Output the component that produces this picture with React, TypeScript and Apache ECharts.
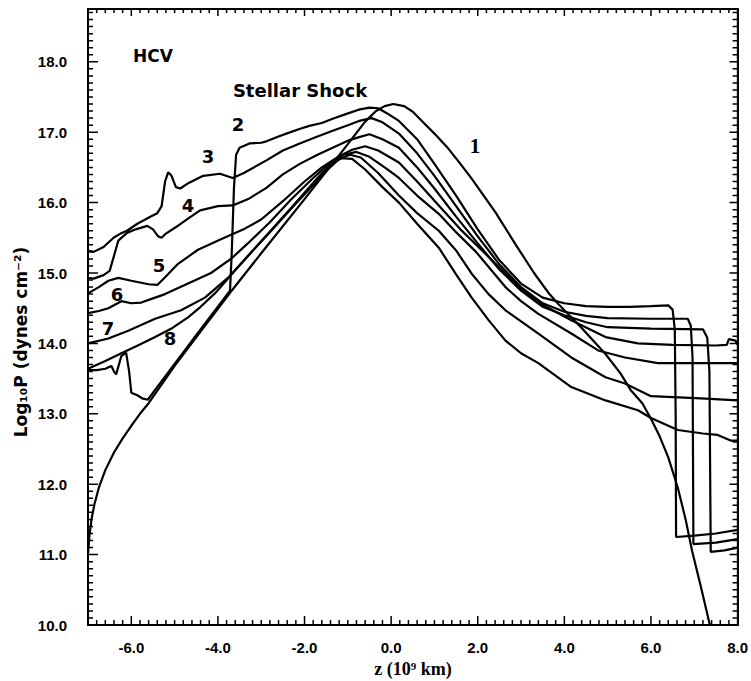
import React, { useEffect, useRef } from 'react';
import * as echarts from 'echarts';

type Pt = [number, number];

const CURVE_1: Pt[] = [
  [-7, 11.0], [-6.97, 11.25], [-6.92, 11.5], [-6.85, 11.72], [-6.75, 11.95], [-6.6, 12.2],
  [-6.4, 12.45], [-6.2, 12.65], [-6.0, 12.83], [-5.8, 13.0], [-5.6, 13.15], [-5.0, 13.68],
  [-4.41, 14.16], [-3.72, 14.72], [-3.0, 15.28], [-2.0, 16.05], [-1.0, 16.83], [-0.6, 17.15],
  [-0.35, 17.3], [-0.15, 17.37], [0.05, 17.4], [0.3, 17.37], [0.5, 17.29], [0.71, 17.16],
  [1.0, 16.98], [1.33, 16.76], [1.6, 16.55], [1.86, 16.34], [2.1, 16.13], [2.41, 15.86],
  [2.88, 15.4], [3.3, 15.0], [3.63, 14.72], [3.86, 14.56], [4.4, 14.22], [4.95, 13.85],
  [5.3, 13.57], [5.54, 13.33], [5.8, 13.15], [6.0, 12.93], [6.2, 12.68], [6.4, 12.38],
  [6.62, 11.95], [6.8, 11.5], [6.95, 11.05], [7.15, 10.55], [7.36, 10.0],
];

const CURVE_2: Pt[] = [
  [-7, 13.62], [-6.8, 13.62], [-6.6, 13.64], [-6.46, 13.68], [-6.4, 13.6], [-6.35, 13.56],
  [-6.23, 13.82], [-6.12, 13.87], [-6.05, 13.6], [-6.0, 13.3], [-5.85, 13.26], [-5.75, 13.22],
  [-5.62, 13.2], [-5.0, 13.71], [-4.41, 14.19], [-3.72, 14.75], [-3.68, 15.3], [-3.63, 16.2],
  [-3.58, 16.68], [-3.5, 16.78], [-3.27, 16.84], [-3.0, 16.85], [-2.88, 16.87], [-2.6, 16.94],
  [-2.42, 16.98], [-2.1, 17.05], [-1.89, 17.09], [-1.6, 17.13], [-1.35, 17.19], [-1.03, 17.26],
  [-0.75, 17.32], [-0.5, 17.35], [-0.3, 17.34], [-0.1, 17.27], [0.18, 17.16], [0.6, 16.9],
  [1.0, 16.55], [1.5, 16.1], [2.0, 15.62], [2.5, 15.18], [3.0, 14.85], [3.5, 14.65],
  [4.0, 14.57], [4.5, 14.53], [5.0, 14.52], [5.5, 14.52], [6.0, 14.53], [6.4, 14.54],
  [6.5, 14.48], [6.55, 14.2], [6.57, 13.0], [6.58, 11.25], [7.0, 11.27], [7.5, 11.3], [8.0, 11.35],
];

const CURVE_3: Pt[] = [
  [-7, 15.32], [-6.87, 15.3], [-6.64, 15.37], [-6.41, 15.5], [-6.25, 15.56], [-6.1, 15.6],
  [-5.86, 15.7], [-5.56, 15.8], [-5.4, 15.85], [-5.3, 15.95], [-5.22, 16.3], [-5.15, 16.43],
  [-5.07, 16.38], [-4.97, 16.22], [-4.87, 16.2], [-4.7, 16.27], [-4.57, 16.31], [-4.34, 16.38],
  [-3.95, 16.41], [-3.66, 16.35], [-3.4, 16.42], [-2.88, 16.6], [-2.5, 16.74], [-2.11, 16.84],
  [-1.7, 16.94], [-1.35, 17.02], [-1.0, 17.1], [-0.74, 17.16], [-0.45, 17.2], [-0.2, 17.14],
  [0.18, 16.98], [0.6, 16.7], [1.0, 16.38], [1.5, 15.95], [2.0, 15.52], [2.5, 15.12],
  [3.0, 14.8], [3.5, 14.57], [4.0, 14.45], [4.5, 14.39], [5.0, 14.36], [6.0, 14.35],
  [6.85, 14.35], [6.92, 14.25], [6.96, 13.8], [6.98, 11.15], [7.5, 11.17], [8.0, 11.22],
];

const CURVE_4: Pt[] = [
  [-7, 14.93], [-6.87, 14.92], [-6.64, 14.97], [-6.5, 15.03], [-6.42, 15.2], [-6.3, 15.46],
  [-6.1, 15.57], [-5.9, 15.62], [-5.63, 15.67], [-5.5, 15.62], [-5.38, 15.52], [-5.3, 15.5],
  [-5.2, 15.56], [-4.95, 15.66], [-4.7, 15.77], [-4.41, 15.89], [-4.0, 15.95], [-3.66, 15.96],
  [-3.3, 16.05], [-2.88, 16.21], [-2.5, 16.4], [-2.11, 16.55], [-1.7, 16.68], [-1.35, 16.78],
  [-1.0, 16.88], [-0.74, 16.93], [-0.5, 16.97], [-0.2, 16.9], [0.18, 16.78], [0.6, 16.5],
  [1.0, 16.2], [1.5, 15.8], [2.0, 15.42], [2.5, 15.05], [3.0, 14.75], [3.5, 14.52],
  [4.0, 14.4], [4.5, 14.3], [5.0, 14.23], [6.0, 14.21], [7.2, 14.2], [7.3, 14.08],
  [7.35, 13.6], [7.38, 11.04], [7.7, 11.06], [8.0, 11.1],
];

const CURVE_5: Pt[] = [
  [-7, 14.71], [-6.75, 14.8], [-6.53, 14.89], [-6.3, 14.93], [-6.0, 14.89], [-5.6, 14.84],
  [-5.4, 14.83], [-5.22, 14.94], [-4.92, 15.13], [-4.46, 15.33], [-3.93, 15.48], [-3.38, 15.63],
  [-3.0, 15.76], [-2.5, 16.02], [-2.0, 16.3], [-1.6, 16.5], [-1.2, 16.66], [-0.9, 16.75],
  [-0.6, 16.8], [-0.3, 16.74], [0.18, 16.57], [0.6, 16.3], [1.1, 15.96], [1.6, 15.62],
  [2.1, 15.32], [2.64, 14.99], [3.0, 14.78], [3.4, 14.58], [4.16, 14.33], [4.95, 14.09],
  [5.7, 14.0], [6.5, 13.98], [7.5, 13.97], [7.75, 13.98], [7.8, 14.06], [7.95, 14.04], [8.0, 13.98],
];

const CURVE_6: Pt[] = [
  [-7, 14.43], [-6.75, 14.46], [-6.53, 14.5], [-6.23, 14.6], [-6.0, 14.57], [-5.77, 14.58],
  [-5.5, 14.64], [-5.22, 14.7], [-4.69, 14.85], [-4.16, 15.0], [-3.7, 15.2], [-3.31, 15.42],
  [-2.8, 15.72], [-2.3, 16.05], [-1.8, 16.35], [-1.4, 16.57], [-1.1, 16.68], [-0.8, 16.72],
  [-0.5, 16.65], [-0.1, 16.48], [0.18, 16.35], [0.6, 16.1], [1.1, 15.84], [1.5, 15.58],
  [1.96, 15.3], [2.64, 14.8], [3.0, 14.6], [3.4, 14.42], [4.16, 14.14], [4.78, 13.9],
  [5.4, 13.8], [6.16, 13.72], [7.0, 13.72], [8.0, 13.72],
];

const CURVE_7: Pt[] = [
  [-7, 14.0], [-6.53, 14.07], [-6.07, 14.18], [-5.45, 14.35], [-4.85, 14.47], [-4.3, 14.65],
  [-3.77, 14.93], [-3.3, 15.25], [-2.8, 15.58], [-2.3, 15.92], [-2.0, 16.12], [-1.5, 16.45],
  [-1.2, 16.62], [-0.95, 16.68], [-0.7, 16.64], [-0.3, 16.42], [0.18, 16.1], [0.6, 15.85],
  [1.1, 15.6], [1.5, 15.32], [1.86, 14.99], [2.25, 14.7], [2.64, 14.47], [3.4, 14.14],
  [4.16, 13.8], [4.95, 13.52], [5.4, 13.43], [6.0, 13.25], [7.15, 13.22], [8.0, 13.19],
];

const CURVE_8: Pt[] = [
  [-7, 13.64], [-6.6, 13.75], [-6.23, 13.86], [-5.85, 13.97], [-5.45, 14.09], [-5.05, 14.22],
  [-4.69, 14.37], [-4.4, 14.52], [-4.07, 14.71], [-3.61, 15.03], [-3.0, 15.45], [-2.3, 15.93],
  [-1.7, 16.35], [-1.4, 16.54], [-1.15, 16.63], [-0.9, 16.62], [-0.6, 16.47], [-0.2, 16.22],
  [0.18, 16.0], [0.6, 15.7], [1.1, 15.36], [1.5, 14.98], [1.86, 14.65], [2.25, 14.33],
  [2.64, 14.04], [3.0, 13.86], [3.4, 13.72], [4.16, 13.38], [4.95, 13.19], [5.7, 13.05],
  [6.0, 12.94], [6.62, 12.77], [7.2, 12.72], [7.54, 12.7], [7.84, 12.62], [8.0, 12.62],
];

const CURVES: Pt[][] = [CURVE_1, CURVE_2, CURVE_3, CURVE_4, CURVE_5, CURVE_6, CURVE_7, CURVE_8];
const CURVE_NAMES = ['1', '2', '3', '4', '5', '6', '7', '8'];

const X_MIN = -7;
const X_MAX = 8;
const Y_MIN = 10;
const Y_MAX = 18.75;
const X_MAJOR_STEP = 2;
const X_MINOR_STEP = 0.2;
const Y_MAJOR_STEP = 1;
const Y_MINOR_STEP = 0.1;

const TITLE = 'HCV';
const SUBTITLE = 'Stellar Shock';
const X_TITLE = 'z (10⁹ km)';
const Y_TITLE = 'Log₁₀P (dynes cm⁻²)';

export default function App() {
  const ref = useRef<HTMLDivElement>(null);

  useEffect(() => {
    const chart = echarts.init(ref.current!, null, { renderer: 'svg' });
    const black = '#000';
    const fmt = (v: number) => v.toFixed(1);
    const tickLabel = {
      fontFamily: '"Liberation Sans", Arial, sans-serif',
      fontWeight: 'bold',
      fontSize: 15,
      color: black,
    };
    const mkAxisLine = () => ({ show: true, onZero: false, lineStyle: { color: black, width: 2 } });
    const xBase = () => ({
      type: 'value', min: X_MIN, max: X_MAX, splitNumber: 7, minInterval: 2, maxInterval: 2,
      splitLine: { show: false }, axisLine: mkAxisLine(), axisTick: { show: false },
    });
    const yBase = () => ({
      type: 'value', min: Y_MIN, max: Y_MAX, interval: 1,
      splitLine: { show: false }, axisLine: mkAxisLine(), axisTick: { show: false },
    });

    const isMult = (v: number, step: number) => Math.abs(v / step - Math.round(v / step)) < 1e-6;
    const xVals: number[] = [];
    const nx = Math.round((X_MAX - X_MIN) / X_MINOR_STEP);
    for (let k = 1; k < nx; k++) xVals.push(+(X_MIN + k * X_MINOR_STEP).toFixed(4));
    const yVals: number[] = [];
    const ny = Math.round((Y_MAX - Y_MIN) / Y_MINOR_STEP);
    for (let k = 1; k < ny; k++) yVals.push(+(Y_MIN + k * Y_MINOR_STEP).toFixed(4));

    const numFont = { fontFamily: '"DejaVu Sans", sans-serif', fontWeight: 'bold', fontSize: 18, fill: black };
    const txt = (text: string, x: number, y: number, st: any, rotation = 0) => ({
      type: 'text', x, y, rotation,
      style: { text, align: 'center', verticalAlign: 'middle', ...st },
    });

    const option: any = {
      animation: false,
      backgroundColor: '#fff',
      grid: { left: 88, right: 11, top: 9, bottom: 56, containLabel: false },
      xAxis: [
        { ...xBase(), position: 'bottom', axisLabel: { ...tickLabel, showMinLabel: false, margin: 15, formatter: fmt } },
        { ...xBase(), position: 'top', axisLabel: { show: false } },
      ],
      yAxis: [
        { ...yBase(), position: 'left', axisLabel: { ...tickLabel, showMaxLabel: false, margin: 21, formatter: fmt } },
        { ...yBase(), position: 'right', axisLabel: { show: false } },
      ],
      series: CURVES.map((data, i) => ({
        name: CURVE_NAMES[i],
        type: 'line',
        xAxisIndex: 0,
        yAxisIndex: 0,
        data,
        showSymbol: false,
        symbol: 'none',
        smooth: false,
        clip: true,
        lineStyle: { color: black, width: 2.2 },
      })),
    };
    chart.setOption(option);

    // Tick marks: one zig-zag polyline per side, positioned through the chart's own scales
    const px = (v: number) => chart.convertToPixel({ xAxisIndex: 0 }, v) as number;
    const py = (v: number) => chart.convertToPixel({ yAxisIndex: 0 }, v) as number;
    const left = px(X_MIN);
    const right = px(X_MAX);
    const bottom = py(Y_MIN);
    const top = py(Y_MAX);

    const bottomPts: number[][] = [[left, bottom]];
    const topPts: number[][] = [[left, top]];
    xVals.forEach((v) => {
      const x = px(v);
      const major = isMult(v, X_MAJOR_STEP);
      bottomPts.push([x, bottom], [x, bottom - (major ? 9 : 5)], [x, bottom]);
      topPts.push([x, top], [x, top + (major ? 7 : 4)], [x, top]);
    });
    bottomPts.push([right, bottom]);
    topPts.push([right, top]);

    const leftPts: number[][] = [[left, bottom]];
    const rightPts: number[][] = [[right, bottom]];
    yVals.forEach((v) => {
      const y = py(v);
      const major = isMult(v, Y_MAJOR_STEP);
      leftPts.push([left, y], [left + (major ? 10 : 5), y], [left, y]);
      rightPts.push([right, y], [right - (major ? 8 : 5), y], [right, y]);
    });
    leftPts.push([left, top]);
    rightPts.push([right, top]);

    const tickLine = (id: string, points: number[][]) => ({
      type: 'polyline', id, z: 50,
      shape: { points },
      style: { stroke: black, lineWidth: 1.5, fill: 'none', lineJoin: 'bevel', lineCap: 'butt' },
    });

    const texts = [
      txt(TITLE, 153, 56, { fontFamily: '"DejaVu Sans", sans-serif', fontWeight: 'bold', fontSize: 17, fill: black }),
      txt(SUBTITLE, 300, 90, { fontFamily: '"DejaVu Sans", sans-serif', fontWeight: 'bold', fontSize: 18, fill: black }),
      txt(CURVE_NAMES[0], 475, 146, { fontFamily: '"Liberation Serif", serif', fontWeight: 'bold', fontSize: 21, fill: black }),
      txt(CURVE_NAMES[1], 238, 124, numFont),
      txt(CURVE_NAMES[2], 208, 156, numFont),
      txt(CURVE_NAMES[3], 188, 205, numFont),
      txt(CURVE_NAMES[4], 159, 265, numFont),
      txt(CURVE_NAMES[5], 117, 294, numFont),
      txt(CURVE_NAMES[6], 108, 328, numFont),
      txt(CURVE_NAMES[7], 170, 338, numFont),
      txt(X_TITLE, 413, 669, { fontFamily: '"Liberation Serif", serif', fontWeight: 'bold', fontSize: 18, fill: black }),
      txt(Y_TITLE, 21, 342, { fontFamily: '"DejaVu Sans", sans-serif', fontWeight: 'bold', fontSize: 17, fill: black }, Math.PI / 2),
    ].map((e, i) => ({ ...e, id: 'tx' + i }));

    chart.setOption({
      graphic: {
        elements: [
          ...texts,
          tickLine('tkb', bottomPts),
          tickLine('tkt', topPts),
          tickLine('tkl', leftPts),
          tickLine('tkr', rightPts),
        ],
      },
    });
    return () => chart.dispose();
  }, []);

  return (
    <div
      ref={ref}
      style={{ position: 'fixed', left: 0, top: 0, width: 751, height: 681, background: '#fff' }}
    />
  );
}
